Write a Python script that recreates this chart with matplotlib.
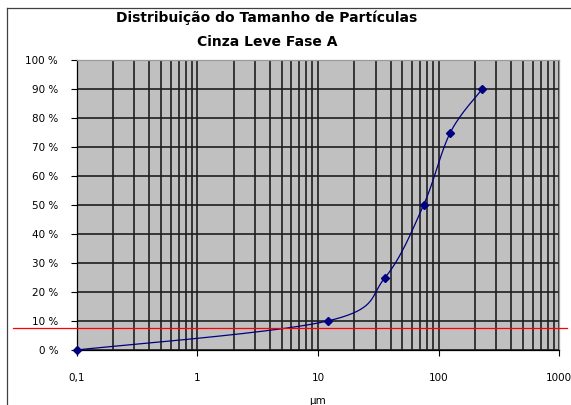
import numpy as np
import matplotlib
matplotlib.use('Agg')
import matplotlib.pyplot as plt
from matplotlib.ticker import FixedLocator, LogLocator, NullFormatter
from matplotlib.lines import Line2D
import matplotlib.transforms as mtransforms

# particle size (um) and cumulative passing (%)
sizes = [0.1, 12, 36, 75, 125, 230]
passing = [0, 10, 25, 50, 75, 90]
ref_level = 7.5

xtick_vals = [0.1, 1, 10, 100, 1000]
xtick_labels = ['0,1', '1', '10', '100', '1000']
ytick_vals = list(range(0, 101, 10))
ytick_labels = ['%d %%' % v for v in ytick_vals]

plt.rcParams['font.family'] = ['DejaVu Sans']


def smooth_curve(xs, ys, n=40):
    # bezier smoothing done in screen-like units (log x)
    u = np.log10(xs) * 121.3
    v = np.asarray(ys, dtype=float) * 2.893
    pts = np.column_stack([u, v])
    out = []
    for i in range(len(pts) - 1):
        p0 = pts[max(i - 1, 0)]
        p1 = pts[i]
        p2 = pts[i + 1]
        p3 = pts[min(i + 2, len(pts) - 1)]
        c1 = p1 + (p2 - p0) / 6.0
        c2 = p2 - (p3 - p1) / 6.0
        t = np.linspace(0, 1, n)[:, None]
        seg = ((1 - t) ** 3) * p1 + 3 * ((1 - t) ** 2) * t * c1 \
            + 3 * (1 - t) * t ** 2 * c2 + t ** 3 * p2
        out.append(seg if i == 0 else seg[1:])
    out = np.vstack(out)
    return 10 ** (out[:, 0] / 121.3), out[:, 1] / 2.893


fig = plt.figure(figsize=(5.71, 4.05), dpi=100)
ax = fig.add_axes([76.7 / 571, 1 - 350 / 405, (559.3 - 76.7) / 571, 290 / 405])
ax.set_facecolor('#c0c0c0')

ax.set_xscale('log')
ax.set_xlim(0.1, 1000)
ax.set_ylim(0, 100)

ax.xaxis.set_major_locator(FixedLocator(xtick_vals))
ax.set_xticklabels(xtick_labels)
ax.xaxis.set_minor_locator(LogLocator(base=10, subs=np.arange(2, 10)))
ax.xaxis.set_minor_formatter(NullFormatter())
ax.set_yticks(ytick_vals)
ax.set_yticklabels(ytick_labels)

ax.tick_params(axis='both', which='major', direction='out', length=4.3,
               width=0.8, color='black', labelsize=7.5)
ax.tick_params(axis='x', which='major', pad=12)
ax.tick_params(axis='y', which='major', pad=9)
ax.tick_params(axis='x', which='minor', length=0)

ax.grid(True, which='both', axis='x', color='#1e1e1e', linewidth=1.2)
ax.grid(True, which='major', axis='y', color='#1e1e1e', linewidth=1.2)
ax.set_axisbelow(True)

for side in ['left', 'bottom']:
    ax.spines[side].set_color('black')
    ax.spines[side].set_linewidth(0.9)
for side in ['top', 'right']:
    ax.spines[side].set_color('#9a9a9a')
    ax.spines[side].set_linewidth(0.9)

# smoothed distribution curve with markers
cx, cy = smooth_curve(sizes, passing)
ax.plot(cx, cy, color='#000080', linewidth=0.9, zorder=3, clip_on=False)
ax.plot(sizes, passing, linestyle='none', marker='D', markersize=4.5,
        color='#000080', zorder=4, clip_on=False)

# red reference line across the whole chart
trans = mtransforms.blended_transform_factory(fig.transFigure, ax.transData)
ax.plot([13 / 571, 567 / 571], [ref_level, ref_level], color='#ff0000',
        linewidth=0.9, transform=trans, clip_on=False, zorder=5)

ax.set_xlabel('µm', fontsize=7.5, va='top')
ax.xaxis.set_label_coords(0.5, -(396 - 350) / 290)

fig.text(267 / 571, 1 - 18 / 405, 'Distribuição do Tamanho de Partículas',
         ha='center', va='center', fontsize=10, fontweight='bold')
fig.text(267 / 571, 1 - 42 / 405, 'Cinza Leve Fase A',
         ha='center', va='center', fontsize=10, fontweight='bold')

# chart frame
fig.add_artist(Line2D([7 / 571, 7 / 571], [0, 1 - 8 / 405], color='#404040',
                      linewidth=0.9, transform=fig.transFigure))
fig.add_artist(Line2D([7 / 571, 1], [1 - 8 / 405, 1 - 8 / 405], color='#404040',
                      linewidth=0.9, transform=fig.transFigure))

fig.savefig('out.png', dpi=100, facecolor='white')
